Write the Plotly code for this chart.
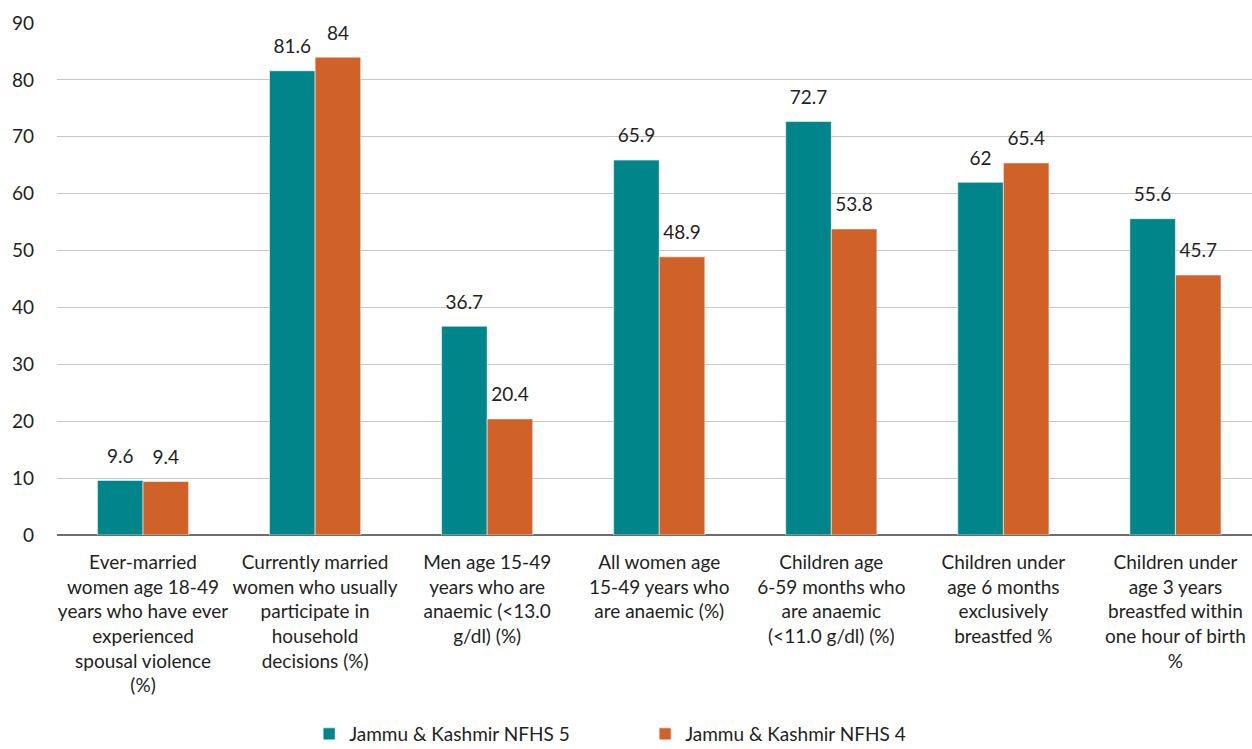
import plotly.graph_objects as go

categories = [
    "Ever-married<br>women age 18-49<br>years who have ever<br>experienced<br>spousal violence<br>(%)",
    "Currently married<br>women who usually<br>participate in<br>household<br>decisions (%)",
    "Men age 15-49<br>years who are<br>anaemic (&lt;13.0<br>g/dl) (%)",
    "All women age<br>15-49 years who<br>are anaemic (%)",
    "Children age<br>6-59 months who<br>are anaemic<br>(&lt;11.0 g/dl) (%)",
    "Children under<br>age 6 months<br>exclusively<br>breastfed %",
    "Children under<br>age 3 years<br>breastfed within<br>one hour of birth<br>%",
]
nfhs5 = [9.6, 81.6, 36.7, 65.9, 72.7, 62, 55.6]
nfhs4 = [9.4, 84, 20.4, 48.9, 53.8, 65.4, 45.7]
series_names = ["Jammu & Kashmir NFHS 5", "Jammu & Kashmir NFHS 4"]
colors = ["#00858a", "#d06128"]
y_ticks = [0, 10, 20, 30, 40, 50, 60, 70, 80, 90]

FONT = "Lato"
TXT = "#231f20"

fig = go.Figure()
for name, vals, col in zip(series_names, [nfhs5, nfhs4], colors):
    fig.add_trace(go.Bar(
        x=categories, y=vals, name=name, offsetgroup=name,
        marker=dict(color=col, line=dict(color="rgba(255,255,255,0.7)", width=0.8)),
    ))
for name, vals in zip(series_names, [nfhs5, nfhs4]):
    fig.add_trace(go.Scatter(
        x=categories, y=vals, offsetgroup=name, mode="markers+text",
        text=[f"{v:g}" for v in vals], textposition="top center",
        textfont=dict(family=FONT, size=19, color=TXT),
        marker=dict(size=19, opacity=0), showlegend=False, hoverinfo="skip",
        cliponaxis=False,
    ))

fig.update_layout(
    width=1252, height=749,
    margin=dict(l=57, r=0, t=23, b=214, autoexpand=False),
    paper_bgcolor="white", plot_bgcolor="white",
    barmode="group", bargap=0.47, bargroupgap=0,
    scattermode="group",
    font=dict(family=FONT, size=19, color=TXT),
    showlegend=True,
    legend=dict(orientation="h", x=0.211, xanchor="left",
                yref="container", y=0.02, yanchor="middle",
                entrywidth=291, entrywidthmode="pixels",
                font=dict(family=FONT, size=19, color=TXT)),
)
fig.update_xaxes(
    range=[-0.5, 6.445], showgrid=False, showline=False,
    ticks="outside", ticklen=10, tickcolor="rgba(0,0,0,0)",
    tickfont=dict(family=FONT, size=19, color=TXT), tickangle=0,
)
fig.update_yaxes(
    range=[0, 90], tickvals=y_ticks, showgrid=True, gridcolor="#c6c6c6", gridwidth=1.3,
    zeroline=True, zerolinecolor="#6d6d6d", zerolinewidth=1.5,
    ticklabelstandoff=22, tickfont=dict(family=FONT, size=19, color=TXT),
)

fig.write_html("out.html")
